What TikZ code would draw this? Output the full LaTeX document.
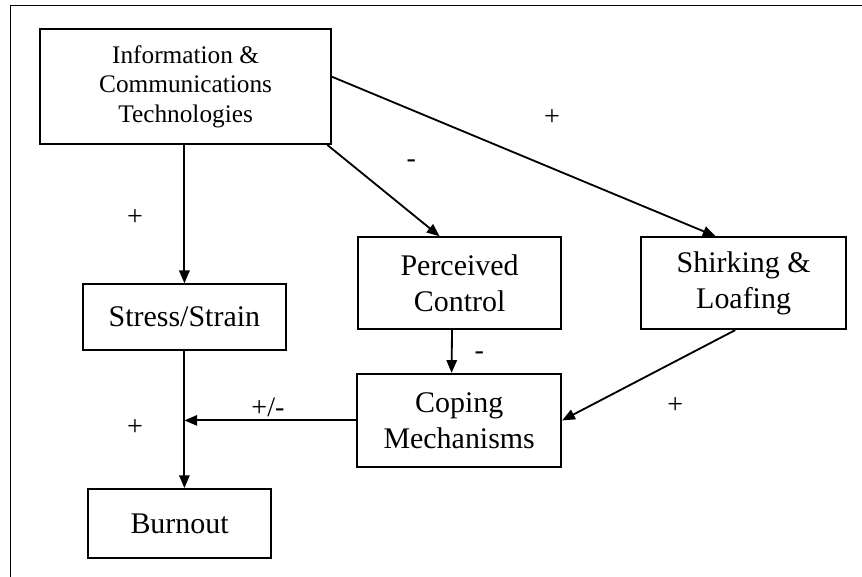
\documentclass[tikz,border=0pt]{standalone}
\usepackage{fontspec}
\setmainfont{Liberation Serif}
\usetikzlibrary{arrows.meta}

\tikzset{
    box/.style={draw, line width=1.3pt, align=center, inner sep=0pt,
        font=\fontsize{21.3}{25.5}\selectfont},
    link/.style={line width=1.3pt, -{Triangle[length=0.32cm,width=0.26cm]}},
    sign/.style={inner sep=1pt, font=\fontsize{20}{24}\selectfont}
}

\begin{document}
\begin{tikzpicture}
        \useasboundingbox (0,0) rectangle (21.55,-14.425);

        % Frame (top and left only)
        \draw[line width=0.8pt] (21.55,-0.13) -- (0.27,-0.13) -- (0.27,-14.425);

        % Boxes
        \node[box, font=\fontsize{18}{21}\selectfont, minimum width=7.28cm, minimum height=2.88cm] (ict) at (4.64,-2.16)
            {Information \&\\Communications\\Technologies};
        \node[box, minimum width=5.08cm, minimum height=1.65cm] (stress) at (4.61,-7.93) {Stress/Strain};
        \node[box, minimum width=4.58cm, minimum height=1.73cm] (burnout) at (4.49,-13.09) {Burnout};
        \node[box, minimum width=5.08cm, minimum height=2.3cm] (control) at (11.49,-7.08) {Perceived\\Control};
        \node[box, minimum width=5.13cm, minimum height=2.3cm] (shirking) at (18.59,-7.08) {Shirking \&\\Loafing};
        \node[box, minimum width=5.1cm, minimum height=2.33cm] (coping) at (11.48,-10.51) {Coping\\Mechanisms};

        % Links
        \draw[link] (ict.south -| stress.north) -- (stress.north);
        \draw[link] ([xshift=-0.12cm]ict.south east) -- ([xshift=-0.5cm]control.north);
        \draw[link] ([yshift=0.24cm]ict.east) -- ([xshift=-0.7cm]shirking.north);
        \draw[link] ([xshift=-0.19cm]control.south) -- ([xshift=-0.19cm]coping.north);
        \draw[link] ([xshift=-0.21cm]shirking.south) -- (coping.east);
        \draw[link] (stress.south) -- (stress.south |- burnout.north);
        \draw[link] (coping.west) -- (coping.west -| stress.south);

        % Signs
        \node[sign] (s1) at (3.375,-5.45) {+};
        \node[sign] (s2) at (10.28,-4.1) {-};
        \node[sign] (s3) at (13.8,-2.93) {+};
        \node[sign] (s4) at (11.98,-8.9) {-};
        \node[sign] (s5) at (16.88,-10.15) {+};
        \node[sign] (s6) at (3.375,-10.68) {+};
        \node[sign] (s7) at (6.7,-10.18) {+/-};
    \end{tikzpicture}
\end{document}
